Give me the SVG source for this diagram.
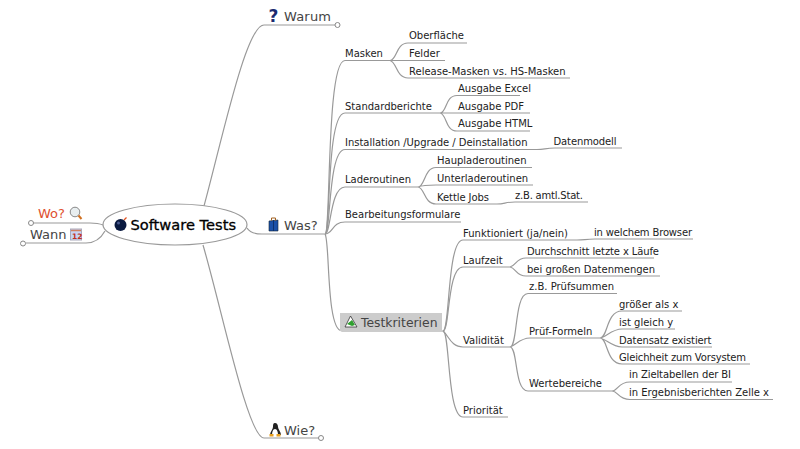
<svg xmlns="http://www.w3.org/2000/svg" width="800" height="449" viewBox="0 0 800 449">
<style>
text{font-family:"DejaVu Sans",sans-serif;fill:#222}
.s{font-size:10px}
.m{font-size:13px;fill:#444}
.c{fill:none;stroke:#999;stroke-width:1.2}
.o{fill:#fff;stroke:#888;stroke-width:1}
</style>
<rect width="800" height="449" fill="#fff"/>
<g id="connectors">
<path class="c" d="M204 206C222 140 246 25 264 25H335"/>
<path class="c" d="M203 245C222 310 248 438 264 438H319"/>
<path class="c" d="M247 228C250 233 255 234 262 234H325"/>
<path class="c" d="M103 225C98 223 94 223 90 223H33"/>
<path class="c" d="M105 231C100 240 94 243 86 243H26"/>
<path class="c" d="M325 234C331 234 326 60 345 60.500H390"/>
<path class="c" d="M325 234C331 234 326 113 345 113H440"/>
<path class="c" d="M325 234C331 234 328 149.500 345 149.500H537C545 149.500 545 148 555 148H622"/>
<path class="c" d="M325 234C331 234 330 187 345 187H418"/>
<path class="c" d="M325 234C333 234 332 222 345 222H461"/>
<path class="c" d="M325 234C330 240 326 331 342 331H443"/>
<path class="c" d="M390 60.500C397 60 396 43 408 43H467M390 60.500H445M390 60.500C397 62 396 78 408 78H570"/>
<path class="c" d="M440 113C447 113 445 95.500 457 95.500H520M440 113H530M440 113C447 114 445 131 457 131H530"/>
<path class="c" d="M418 187C425 187 424 167.500 436 167.500H532M418 187C423 185 428 185 436 185H533M418 187C425 188 424 204 436 204H497C505 204 505 202 515 202H588"/>
<path class="c" d="M443 331C450 331 447 240 463 240H577C585 240 585 239 595 239H693"/>
<path class="c" d="M443 331C450 331 447 267 463 267H510"/>
<path class="c" d="M443 331C449 336 451 347 463 347H510"/>
<path class="c" d="M443 331C450 331 447 417 463 417H508"/>
<path class="c" d="M510 267C516 266 516 258 526 258H654M510 267C516 268 516 276 526 276H660"/>
<path class="c" d="M510 347C518 347 514 293.500 528 293.500H617M510 347C516 345 520 338 530 338H600M510 347C518 347 514 391 528 391H612"/>
<path class="c" d="M600 338C608 338 606 311 622 311H682M600 338C606 337 612 329 622 329H675M600 338C606 339 612 347 622 347H712M600 338C608 338 606 364 622 364H750"/>
<path class="c" d="M612 391C618 391 618 382 630 382H732M612 391C618 391 618 399.500 630 399.500H773"/>
</g>
<g id="root">
<ellipse cx="175" cy="224.500" rx="72" ry="20.500" fill="#fff" stroke="#999" stroke-width="1.200"/>
<circle cx="120.500" cy="225" r="6" fill="#0a1a40"/><circle cx="118.500" cy="223" r="1.500" fill="#4a5a90"/><path d="M124 220l2.500-2.500" stroke="#e05020" stroke-width="1.200"/>
<text x="130.500" y="230" textLength="105.500" lengthAdjust="spacingAndGlyphs" style="font-size:14.500px;fill:#000" stroke="#000" stroke-width=".3">Software Tests</text>
</g>
<g id="warum">
<text x="268.500" y="22" style="font-size:17px;font-weight:bold;fill:#1a2a70">?</text>
<text class="m" x="284" y="21" textLength="47">Warum</text>
<circle class="o" cx="337.500" cy="25" r="2.500"/>
</g>
<g id="was">
<path d="M269 221l9-1v11l-9 0z" fill="#1a50a8" stroke="#123" stroke-width=".6"/><path d="M271.500 220.500v-2.500h4v2.500" fill="none" stroke="#a06020"/><path d="M273.500 220v11" stroke="#0a2a60" stroke-width=".8"/>
<text class="m" x="284" y="230">Was?</text>
</g>
<g id="wie">
<path d="M275 423c2 0 3 2 3 4 0 2 3 5 3 8h-11c0-3 3-6 3-8 0-2 0-4 2-4z" fill="#222"/><path d="M275 429c2 0 3 3 3 6h-6c0-3 1-6 3-6z" fill="#fff"/><path d="M269.500 434h4v2.500h-4zM276.500 434h4v2.500h-4z" fill="#e8a020"/>
<text class="m" x="284" y="435">Wie?</text>
<circle class="o" cx="321" cy="438" r="2.500"/>
</g>
<g id="wo">
<text x="38" y="218" style="font-size:13px;fill:#e05030">Wo?</text>
<circle cx="75" cy="212" r="4.800" fill="#e8eef0" stroke="#888"/><path d="M78.500 215.500l3 3.500" stroke="#d07020" stroke-width="2"/>
<circle class="o" cx="31" cy="223" r="2.500"/>
</g>
<g id="wann">
<text class="m" x="30" y="239">Wann</text>
<rect x="70.500" y="229" width="11" height="11" fill="#c8d4f4" stroke="#aab"/><path d="M71 230.500h10" stroke="#d08060" stroke-width="1.500"/><text x="72" y="238.500" style="font-size:7.500px;fill:#c03020;font-weight:bold">12</text>
<circle class="o" cx="23" cy="243.500" r="2.500"/>
</g>
<g id="testkriterien">
<rect x="340" y="313" width="102" height="18" fill="#ccc"/>
<path d="M345 327l5.500-11 6.500 11z" fill="#fff" stroke="#333" stroke-width=".8"/><path d="M347 324l5-4 3 5-3 1z" fill="#30a030"/>
<text class="m" x="361" y="327" textLength="76.500" lengthAdjust="spacingAndGlyphs">Testkriterien</text>
</g>
<g id="labels">
<text class="s" x="345" y="57">Masken</text>
<text class="s" x="409" y="39">Oberfläche</text>
<text class="s" x="409" y="57">Felder</text>
<text class="s" x="409" y="74.500">Release-Masken vs. HS-Masken</text>
<text class="s" x="345" y="109.500">Standardberichte</text>
<text class="s" x="458" y="92">Ausgabe Excel</text>
<text class="s" x="458" y="109.500">Ausgabe PDF</text>
<text class="s" x="458" y="127">Ausgabe HTML</text>
<text class="s" x="345" y="146" textLength="182.500">Installation /Upgrade / Deinstallation</text>
<text class="s" x="553.500" y="145" textLength="63">Datenmodell</text>
<text class="s" x="345" y="183">Laderoutinen</text>
<text class="s" x="437" y="164">Haupladeroutinen</text>
<text class="s" x="437" y="182">Unterladeroutinen</text>
<text class="s" x="437" y="201" textLength="52">Kettle Jobs</text>
<text class="s" x="515" y="199" textLength="68">z.B. amtl.Stat.</text>
<text class="s" x="345" y="218">Bearbeitungsformulare</text>
<text class="s" x="463" y="237" textLength="105">Funktioniert (ja/nein)</text>
<text class="s" x="594" y="236" textLength="98">in welchem Browser</text>
<text class="s" x="463" y="264">Laufzeit</text>
<text class="s" x="527" y="255" textLength="132">Durchschnitt letzte x Läufe</text>
<text class="s" x="527" y="273">bei großen Datenmengen</text>
<text class="s" x="463" y="344">Validität</text>
<text class="s" x="529" y="290">z.B. Prüfsummen</text>
<text class="s" x="529" y="335">Prüf-Formeln</text>
<text class="s" x="529" y="387">Wertebereiche</text>
<text class="s" x="619" y="308">größer als x</text>
<text class="s" x="619" y="326">ist gleich y</text>
<text class="s" x="619" y="343.500" textLength="92.500">Datensatz existiert</text>
<text class="s" x="619" y="361" textLength="127">Gleichheit zum Vorsystem</text>
<text class="s" x="629" y="378" textLength="102">in Zieltabellen der BI</text>
<text class="s" x="629" y="396" textLength="140">in Ergebnisberichten Zelle x</text>
<text class="s" x="463" y="414">Priorität</text>
</g>
</svg>
